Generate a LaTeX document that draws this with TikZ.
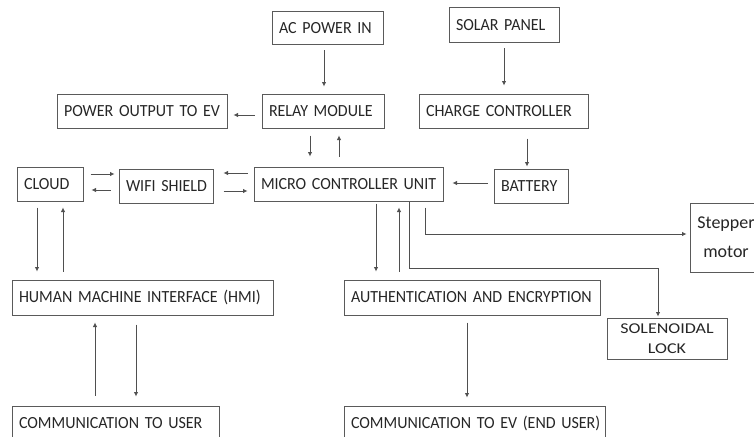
\documentclass[tikz,border=0pt]{standalone}
\usepackage{fontspec}
\setmainfont{Carlito}
\newfontfamily\boxfont[FakeStretch=0.94]{Carlito}
\newfontfamily\solfont[FakeStretch=1.2]{Carlito}
\usetikzlibrary{arrows.meta,calc}
\definecolor{boxline}{HTML}{5A5A5A}
\definecolor{txt}{HTML}{262626}
\definecolor{wire}{HTML}{4F4F4F}
\tikzset{
  box/.style={draw=boxline, line width=1pt, text=txt, inner xsep=7pt, inner ysep=0pt,
    minimum height=34pt, align=left, font=\boxfont\fontsize{17}{19}\selectfont},
  arr/.style={draw=wire, line width=0.8pt, -{Latex[length=4.5pt,width=4.5pt]}},
}
\begin{document}
\begin{tikzpicture}[x=1pt,y=-1pt]
\useasboundingbox (0,0) rectangle (754,436);
% nodes
\node[box, text width=97pt, minimum height=33pt] (ac) at (327.5,28.5) {\mbox{AC POWER IN}};
\node[box, text width=96pt, minimum height=35pt] (solar) at (504,25.5) {\mbox{SOLAR PANEL}};
\node[box, text width=108pt] (relay) at (323,111) {\mbox{RELAY MODULE}};
\node[box, text width=156pt] (pout) at (142,111) {\mbox{POWER OUTPUT TO EV}};
\node[box, text width=155pt] (charge) at (503.5,111) {\mbox{CHARGE CONTROLLER}};
\node[box, text width=60pt] (battery) at (531,186) {\mbox{BATTERY}};
\node[box, text width=175pt] (mcu) at (348.5,184) {\mbox{MICRO CONTROLLER UNIT}};
\node[box, text width=80pt] (wifi) at (166,186) {\mbox{WIFI SHIELD}};
\node[box, text width=52pt] (cloud) at (50,184) {\mbox{CLOUD}};
\node[box, text width=247pt, minimum height=35pt] (hmi) at (142.5,297.5) {\mbox{HUMAN MACHINE INTERFACE (HMI)}};
\node[box, text width=242pt, minimum height=35pt] (auth) at (472,297.5) {\mbox{AUTHENTICATION AND ENCRYPTION}};
\node[box, text width=193pt, minimum height=35pt] (cuser) at (115.5,423.5) {\mbox{COMMUNICATION TO USER}};
\node[box, text width=247pt, minimum height=35pt] (cev) at (474.5,423.5) {\mbox{COMMUNICATION TO EV (END USER)}};
\node[box, align=center, text width=106pt, inner xsep=7pt, minimum height=41pt,
      font=\solfont\fontsize{15}{19.5}\selectfont] (sol) at (667,338.5) {SOLENOIDAL\\LOCK};
\node[box, align=center, text width=58pt, minimum height=69pt,
      font=\fontsize{18}{29}\selectfont] (step) at (726,237.5) {Stepper\\motor};
% helper coordinates
\path ($(ac.south)+(-3.5,0)$) coordinate (c1)
      ($(relay.west)+(0,4)$) coordinate (c2)
      ($(relay.south)+(-13,0)$) coordinate (c3)
      ($(relay.south)+(16,0)$) coordinate (c4)
      ($(charge.south)+(23.5,0)$) coordinate (c5)
      ($(battery.west)+(0,-3)$) coordinate (c6)
      ($(cloud.east)+(0,-10)$) coordinate (c7)
      ($(cloud.east)+(0,6)$) coordinate (c8)
      ($(mcu.west)+(0,-11)$) coordinate (c9)
      ($(mcu.west)+(0,7)$) coordinate (c10)
      ($(cloud.south)+(-13,0)$) coordinate (c11)
      ($(cloud.south)+(13,0)$) coordinate (c12)
      ($(cuser.north)+(-20.5,0)$) coordinate (c13)
      ($(hmi.south)+(-6.5,0)$) coordinate (c14)
      ($(mcu.south)+(27.5,0)$) coordinate (c15)
      ($(mcu.south)+(50.5,0)$) coordinate (c16)
      ($(auth.south)+(-5,0)$) coordinate (c17)
      ($(mcu.south)+(60.5,0)$) coordinate (c18)
      ($(sol.north)+(-9,0)$) coordinate (c19)
      ($(mcu.south)+(76.5,6)$) coordinate (c20)
      ($(step.west)+(0,-3.5)$) coordinate (c21);
% connectors
\draw[arr, shorten <=5pt, shorten >=7pt] (c1) -- (c1 |- relay.north);
\draw[arr, shorten <=5pt, shorten >=8pt] (solar.south) -- (solar.south |- charge.north);
\draw[arr, shorten <=7pt, shorten >=6pt] (c2) -- (c2 -| pout.east);
\draw[arr, shorten <=7pt, shorten >=10pt] (c3) -- (c3 |- mcu.north);
\draw[arr, shorten <=10pt, shorten >=7pt] (c4 |- mcu.north) -- (c4);
\draw[arr, shorten <=10pt, shorten >=2pt] (c5) -- (c5 |- battery.north);
\draw[arr, shorten <=6pt, shorten >=9pt] (c6) -- (c6 -| mcu.east);
\draw[arr, shorten <=7pt, shorten >=4pt] (c7) -- (c7 -| wifi.west);
\draw[arr, shorten <=8pt, shorten >=8pt] (c8 -| wifi.west) -- (c8);
\draw[arr, shorten <=6pt, shorten >=10pt] (c9) -- (c9 -| wifi.east);
\draw[arr, shorten <=10pt, shorten >=6pt] (c10 -| wifi.east) -- (c10);
\draw[arr, shorten <=6pt, shorten >=8pt] (c11) -- (c11 |- hmi.north);
\draw[arr, shorten <=8pt, shorten >=6pt] (c12 |- hmi.north) -- (c12);
\draw[arr, shorten <=10pt, shorten >=7pt] (c13) -- (c13 |- hmi.south);
\draw[arr, shorten <=9pt, shorten >=9pt] (c14) -- (c14 |- cuser.north);
\draw[arr, shorten <=2pt, shorten >=8pt] (c15) -- (c15 |- auth.north);
\draw[arr, shorten <=8pt, shorten >=6pt] (c16 |- auth.north) -- (c16);
\draw[arr, shorten <=7pt, shorten >=8pt] (c17) -- (c17 |- cev.north);
\draw[arr, shorten >=1pt] (c18) -- ++(0,67) -| (c19);
\draw[arr, shorten >=3pt] (c20) |- (c21);
\end{tikzpicture}
\end{document}
